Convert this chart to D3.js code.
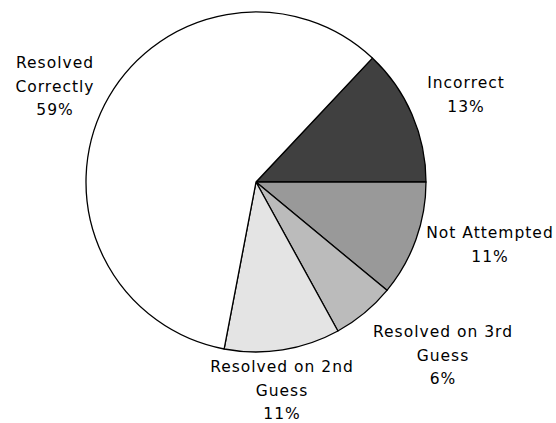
<!DOCTYPE html>
<html><head><meta charset="utf-8">
<script src="https://cdn.jsdelivr.net/npm/d3@7"></script>
<style>body{margin:0;background:#fff}</style>
</head><body>
<svg id="c" width="556" height="423"></svg>
<script>
const categories = ["Incorrect", "Not Attempted", "Resolved on 3rd Guess", "Resolved on 2nd Guess", "Resolved Correctly"];
const values = [13, 11, 6, 11, 59];
const colors = ["#404040", "#999999", "#bbbbbb", "#e4e4e4", "#ffffff"];
const labelLines = [["Incorrect","13%"],["Not Attempted","11%"],["Resolved on 3rd","Guess","6%"],["Resolved on 2nd","Guess","11%"],["Resolved","Correctly","59%"]];
const labelPos = [[466,88],[490,238],[443,337],[282,372],[55,68]];

const svg = d3.select("#c");
const cx = 256, cy = 182, r = 170;
const total = d3.sum(values);
const start = (90 - 360*values[0]/total) * Math.PI/180;
const pie = d3.pie().sort(null).startAngle(start).endAngle(start + 2*Math.PI);
const arc = d3.arc().innerRadius(0).outerRadius(r);
const g = svg.append("g").attr("transform", `translate(${cx},${cy})`);
g.selectAll("path").data(pie(values)).join("path")
  .attr("d", arc).attr("fill", (d,i)=>colors[i])
  .attr("stroke", "#000").attr("stroke-width", 1.3).attr("stroke-linejoin","round");

labelLines.forEach((lines,i)=>{
  const t = svg.append("text").attr("text-anchor","middle")
    .attr("font-family","DejaVu Sans").attr("font-size",15.5).attr("fill","#000").attr("letter-spacing","1");
  lines.forEach((s,j)=>{
    t.append("tspan").attr("x",labelPos[i][0]).attr("y",labelPos[i][1]+j*23.5).text(s);
  });
});
</script>
</body></html>
